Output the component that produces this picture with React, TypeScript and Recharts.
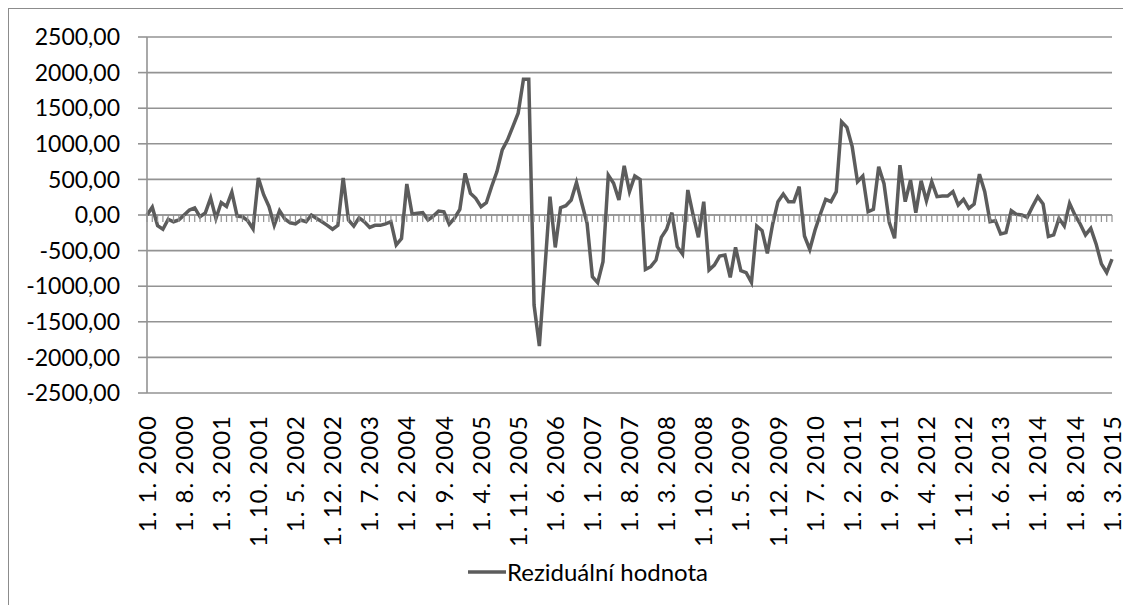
import React from 'react';
import { LineChart, Line, XAxis, YAxis, CartesianGrid, Legend } from 'recharts';

// Monthly residuals, 1. 1. 2000 – 1. 3. 2015
const residuals: number[] = [
  0, 110, -150, -200, -60, -95, -70, 0, 70, 100, -25, 30,
  240, -50, 175, 120, 320, -15, -25, -80, -195, 520, 285, 120,
  -145, 60, -55, -110, -125, -70, -95, 0, -50, -95, -145, -200,
  -145, 520, -70, -155, -40, -95, -175, -145, -145, -125, -94, -420,
  -330, 435, 15, 25, 35, -70, -15, 55, 45, -130, -45, 80,
  585, 305, 235, 117, 173, 400, 610, 915, 1055, 1240, 1430, 1907,
  1907, -1265, -1840, -800, 258, -455, 103, 131, 210, 455, 165, -117,
  -867, -950, -655, 560, 445, 210, 690, 330, 548, 500, -764, -726,
  -633, -314, -200, 33, -445, -548, 351, 0, -314, 187, -773, -703,
  -576, -562, -876, -454, -782, -810, -946, -155, -220, -540, -127, 187,
  295, 187, 187, 398, -295, -483, -210, 14, 220, 187, 328, 1310,
  1232, 960, 468, 548, 46, 80, 677, 440, -107, -327, 700, 187,
  490, 33, 481, 200, 467, 257, 266, 266, 327, 140, 220, 93,
  154, 574, 327, -93, -80, -266, -247, 60, 9, 0, -33, 117,
  257, 154, -303, -280, -47, -154, 163, 0, -126, -280, -187, -406,
  -686, -808, -621,
];

const startYear = 2000;
const categories: string[] = residuals.map(
  (_, i) => `1. ${(i % 12) + 1}. ${startYear + Math.floor(i / 12)}`
);

const yTicks: number[] = [-2500, -2000, -1500, -1000, -500, 0, 500, 1000, 1500, 2000, 2500];

const seriesName = 'Reziduální hodnota';

const data = categories.map((c, i) => ({ date: c, value: residuals[i], zero: 0 }));

const FONT = 'Lato, "Open Sans", sans-serif';
const GRID = '#939393';
const LINE = '#5c5c5c';

const XTick = (props: any) => {
  const { x, y, payload } = props;
  return (
    <g transform={`translate(${x},${y})`}>
      <text
        x={-22}
        y={0}
        dy="0.36em"
        transform="rotate(-90)"
        textAnchor="end"
        fontSize={24}
        letterSpacing={1}
        fontFamily={FONT}
        fill="#000"
      >
        {payload.value}
      </text>
    </g>
  );
};

const ZeroTick = (props: any) => {
  const { cx, cy, index } = props;
  if (cx == null || cy == null) return <g key={index} />;
  return (
    <line key={index} x1={cx} x2={cx} y1={cy} y2={cy + 7} stroke={GRID} strokeWidth={1.2} />
  );
};

const LegendContent = () => (
  <div style={{ display: 'flex', alignItems: 'center', fontFamily: FONT, fontSize: 24, color: '#000' }}>
    <svg width={38} height={10} style={{ marginRight: 1 }}>
      <line x1={0} y1={5} x2={38} y2={5} stroke={LINE} strokeWidth={3.5} />
    </svg>
    <span>{seriesName}</span>
  </div>
);

export default function App() {
  return (
    <div
      style={{
        width: 1122,
        height: 596,
        borderLeft: '1px solid #8c8c8c',
        borderTop: '1px solid #8c8c8c',
        background: '#fff',
      }}
    >
      <style>{`html,body{overflow:hidden}`}</style>
      <LineChart
        width={1122}
        height={596}
        data={data}
        margin={{ top: 28, right: 19, bottom: 0, left: 0 }}
      >
        <CartesianGrid vertical={false} stroke={GRID} strokeWidth={1.6} />
        <XAxis
          dataKey="date"
          height={212}
          interval={6}
          axisLine={false}
          tickLine={false}
          tickSize={0}
          tickMargin={0}
          tick={<XTick />}
          padding={{ left: 0, right: 0 }}
        />
        <YAxis
          width={138}
          domain={[-2500, 2500]}
          ticks={yTicks}
          interval={0}
          tickFormatter={(v: number) => v.toFixed(2).replace('.', ',')}
          tick={{ fontSize: 23, fontFamily: FONT, fill: '#000' }}
          tickSize={9}
          tickMargin={18}
          tickLine={{ stroke: GRID, strokeWidth: 1.6 }}
          axisLine={{ stroke: GRID, strokeWidth: 1.6 }}
        />
        <Legend
          layout="horizontal"
          verticalAlign="middle"
          align="center"
          content={<LegendContent />}
          wrapperStyle={{ top: 548, left: 459, width: 'auto' }}
        />
        <Line
          dataKey="zero"
          stroke={GRID}
          strokeWidth={1.6}
          dot={<ZeroTick />}
          activeDot={false}
          legendType="none"
          isAnimationActive={false}
        />
        <Line
          dataKey="value"
          name={seriesName}
          type="linear"
          stroke={LINE}
          strokeWidth={3.5}
          dot={false}
          isAnimationActive={false}
        />
      </LineChart>
    </div>
  );
}
